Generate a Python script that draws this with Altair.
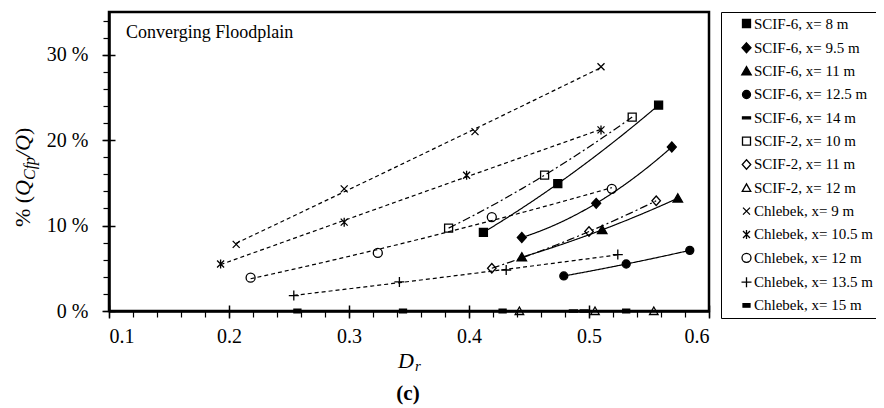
import altair as alt
import pandas as pd

# ---------------- data ----------------
series = [
    "SCIF-6, x= 8 m", "SCIF-6, x= 9.5 m", "SCIF-6, x= 11 m", "SCIF-6, x= 12.5 m",
    "SCIF-6, x= 14 m", "SCIF-2, x= 10 m", "SCIF-2, x= 11 m", "SCIF-2, x= 12 m",
    "Chlebek, x= 9 m", "Chlebek, x= 10.5 m", "Chlebek, x= 12 m", "Chlebek, x= 13.5 m",
    "Chlebek, x= 15 m",
]
Dr_values = [
    [0.412, 0.474, 0.558],
    [0.444, 0.506, 0.569],
    [0.444, 0.511, 0.574],
    [0.479, 0.531, 0.584],
    [0.487, 0.496],
    [0.383, 0.463, 0.536],
    [0.419, 0.500, 0.556],
    [0.442, 0.505, 0.554],
    [0.206, 0.296, 0.405, 0.510],
    [0.193, 0.296, 0.398, 0.510],
    [0.218, 0.324, 0.419, 0.519],
    [0.254, 0.342, 0.431, 0.524],
    [0.257, 0.345, 0.428, 0.531],
]
pct_values = [
    [9.2, 14.9, 24.1],
    [8.6, 12.6, 19.2],
    [6.3, 9.5, 13.2],
    [4.1, 5.5, 7.1],
    [0.0, 0.0],
    [9.7, 15.9, 22.7],
    [5.0, 9.3, 12.9],
    [0.0, 0.0, 0.0],
    [7.8, 14.3, 21.0, 28.6],
    [5.5, 10.4, 15.9, 21.2],
    [3.9, 6.8, 11.0, 14.3],
    [1.8, 3.4, 4.8, 6.6],
    [0.0, 0.0, 0.0, 0.0],
]
line_kind = ["solid", "solid", "solid", "solid", "none", "dashdot", "dashdot", "none",
             "dash", "dash", "dash", "dash", "none"]
x_major = [0.1, 0.2, 0.3, 0.4, 0.5, 0.6]
y_major = [0, 10, 20, 30]

rows = []
for s, ds, ps, lk in zip(series, Dr_values, pct_values, line_kind):
    for d, p in zip(ds, ps):
        rows.append({"series": s, "D": d, "P": p, "line": lk})
df = pd.DataFrame(rows)

# ---------------- styles ----------------
FONT = "Liberation Serif"
W, H = 600, 299
shapes = [
    "M-0.8,-0.8H0.8V0.8H-0.8Z",
    "M0,-1L0.9,0L0,1L-0.9,0Z",
    "M0,-0.9L0.95,0.75H-0.95Z",
    "M-0.8,0A0.8,0.8 0 1,0 0.8,0A0.8,0.8 0 1,0 -0.8,0Z",
    "M-0.8,-0.2H0.8V0.2H-0.8Z",
    "M-0.8,-0.8H0.8V0.8H-0.8Z",
    "M0,-0.95L0.85,0L0,0.95L-0.85,0Z",
    "M0,-0.8L0.85,0.7H-0.85Z",
    "M-0.7,-0.7L0.7,0.7M-0.7,0.7L0.7,-0.7",
    "M-0.7,-0.7L0.7,0.7M-0.7,0.7L0.7,-0.7M0,-0.9V0.9",
    "M-0.9,0A0.9,0.9 0 1,0 0.9,0A0.9,0.9 0 1,0 -0.9,0Z",
    "M-1,0H1M0,-1V1",
    "M-0.7,-0.35H0.7V0.35H-0.7Z",
]
fills = ["black"] * 5 + ["transparent"] * 7 + ["black"]
strokes = ["black"] * 13

xscale = alt.Scale(domain=[0.1, 0.6], nice=False, zero=False)
yscale = alt.Scale(domain=[0, 35], nice=False, zero=True)
x_minor = [round(0.1 + 0.02 * i, 2) for i in range(26)]
y_minor = list(range(0, 36, 2))

common_axis = dict(grid=False, title=None, domainColor="black", tickColor="black",
                   labelColor="black", labelFont=FONT)

x_main_axis = alt.Axis(values=x_major, format=".1f", orient="bottom", tickSize=7, tickWidth=1.5,
                       domainWidth=2.5, labelPadding=8, labelFontSize=20, **common_axis)
y_main_axis = alt.Axis(values=y_major, labelExpr="datum.value + ' %'", orient="left", tickSize=7,
                       tickWidth=1.5, domainWidth=2.5, labelPadding=14, labelFontSize=20, **common_axis)
x_minor_axis = alt.Axis(values=x_minor, orient="bottom", tickSize=6, tickWidth=1.2, labels=False,
                        domain=False, **common_axis)
y_minor_axis = alt.Axis(values=y_minor, orient="left", tickSize=6, tickWidth=1.2, labels=False,
                        domain=False, **common_axis)
x_in_axis = alt.Axis(values=x_major, orient="bottom", offset=-6, tickSize=6, tickWidth=1.5,
                     labels=False, domain=False, **common_axis)
y_in_axis = alt.Axis(values=y_major, orient="left", offset=-6, tickSize=6, tickWidth=1.5,
                     labels=False, domain=False, **common_axis)

base = alt.Chart(df)

lines = base.transform_filter(
    alt.datum.line != "none"
).transform_regression(
    "D", "P", method="poly", order=2, groupby=["series", "line"]
).mark_line(color="black", strokeWidth=1.2).encode(
    x=alt.X("D:Q", scale=xscale, axis=x_minor_axis),
    y=alt.Y("P:Q", scale=yscale, axis=y_minor_axis),
    detail="series:N",
    strokeDash=alt.StrokeDash("line:N", scale=alt.Scale(
        domain=["solid", "dashdot", "dash"], range=[[1, 0], [8, 3, 2, 3], [4, 3]]), legend=None),
)

points = base.mark_point(filled=True, size=100, strokeWidth=1.3, opacity=1).encode(
    x=alt.X("D:Q", scale=xscale, axis=x_main_axis),
    y=alt.Y("P:Q", scale=yscale, axis=y_main_axis),
    shape=alt.Shape("series:N", scale=alt.Scale(domain=series, range=shapes), legend=alt.Legend(title=None)),
    fill=alt.Fill("series:N", scale=alt.Scale(domain=series, range=fills), legend=alt.Legend(title=None)),
    stroke=alt.Stroke("series:N", scale=alt.Scale(domain=series, range=strokes), legend=alt.Legend(title=None)),
)

inner_ticks = base.mark_point(opacity=0).encode(
    x=alt.X("D:Q", scale=xscale, axis=x_in_axis),
    y=alt.Y("P:Q", scale=yscale, axis=y_in_axis),
)

# ---------------- annotation texts ----------------
def label(txt, x, y, size, style="normal", weight="normal", angle=0, align="left", baseline="alphabetic"):
    return alt.Chart(pd.DataFrame({"t": [txt]})).mark_text(
        font=FONT, fontSize=size, fontStyle=style, fontWeight=weight, angle=angle,
        align=align, baseline=baseline, color="black"
    ).encode(text="t:N", x=alt.value(x), y=alt.value(y))

texts = [
    label("Converging Floodplain", 17, 26, 18),
    label("D", 289, 356, 22, style="italic"),
    label("r", 306, 359, 15, style="italic"),
    label("(c)", 299, 388, 21, weight="bold", align="center"),
    # y-axis title, rotated, pieces stacked bottom -> top
    label("% (", -79, 215, 22, angle=270),
    label("Q", -79, 184, 22, style="italic", angle=270),
    label("Cfp", -74, 168, 16, style="italic", angle=270),
    label("/Q", -79, 145, 22, style="italic", angle=270),
    label(")", -79, 123, 22, angle=270),
]

chart = alt.layer(lines, inner_ticks, points, *texts).resolve_axis(
    x="independent", y="independent"
).properties(
    width=W, height=H,
    autosize=alt.AutoSizeParams(type="none"),
    padding={"left": 101, "top": 4, "right": 167, "bottom": 96},
).configure_view(
    stroke="black", strokeWidth=2.5
).configure_legend(
    orient="right", offset=12, padding=4, strokeColor="black", strokeWidth=1,
    labelFont=FONT, labelFontSize=15, labelColor="black", symbolSize=100,
    symbolStrokeWidth=1.3, rowPadding=7.33,
    symbolOffset=14, labelOffset=0, labelLimit=300,
)

chart.save("out.html", embed_options={"renderer": "svg", "actions": False})
